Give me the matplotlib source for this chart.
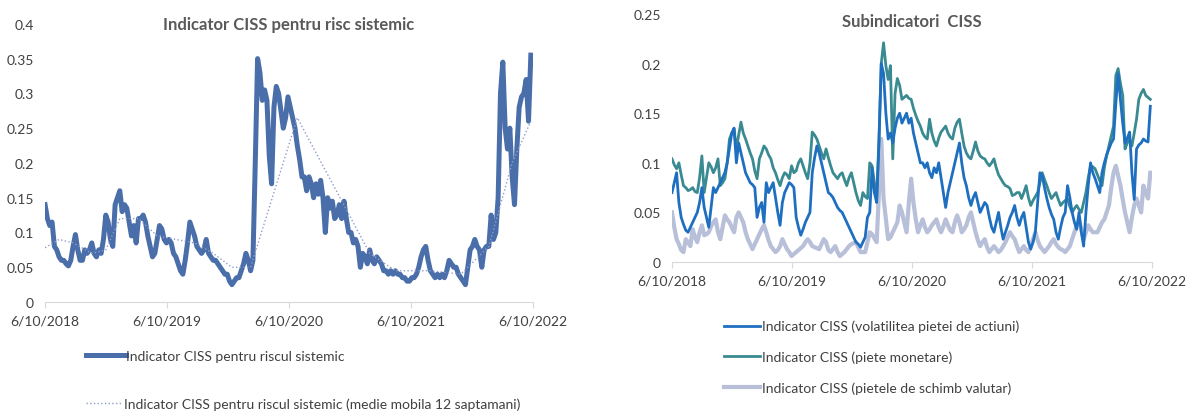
import pandas as pd
import matplotlib.pyplot as plt

plt.rcParams['font.family'] = ['Lato', 'DejaVu Sans']

# weekly data, starting 10 June 2018
start = '2018-06-10'

ciss = [0.14, 0.12, 0.11, 0.115, 0.08, 0.075, 0.065, 0.06, 0.06, 0.055, 0.052, 0.06, 0.08,
        0.097, 0.075, 0.06, 0.06, 0.075, 0.07, 0.075, 0.085, 0.07, 0.065, 0.075, 0.07, 0.09,
        0.125, 0.115, 0.09, 0.08, 0.14, 0.15, 0.16, 0.13, 0.14, 0.135, 0.115, 0.095, 0.11,
        0.085, 0.12, 0.12, 0.125, 0.115, 0.095, 0.08, 0.065, 0.07, 0.09, 0.11, 0.105, 0.09,
        0.085, 0.09, 0.085, 0.07, 0.065, 0.055, 0.045, 0.04, 0.06, 0.085, 0.115, 0.105, 0.095,
        0.08, 0.075, 0.07, 0.075, 0.09, 0.07, 0.065, 0.06, 0.06, 0.055, 0.05, 0.045, 0.04,
        0.04, 0.03, 0.025, 0.03, 0.035, 0.035, 0.045, 0.055, 0.07, 0.06, 0.045, 0.06, 0.2,
        0.35, 0.33, 0.29, 0.305, 0.29, 0.21, 0.17, 0.28, 0.31, 0.3, 0.275, 0.25, 0.265, 0.295,
        0.28, 0.265, 0.25, 0.225, 0.205, 0.18, 0.18, 0.16, 0.18, 0.17, 0.15, 0.17, 0.155, 0.175,
        0.15, 0.1, 0.15, 0.135, 0.145, 0.12, 0.125, 0.14, 0.12, 0.145, 0.12, 0.1, 0.1, 0.085,
        0.09, 0.08, 0.05, 0.07, 0.065, 0.055, 0.075, 0.06, 0.055, 0.065, 0.06, 0.055, 0.045,
        0.045, 0.04, 0.045, 0.04, 0.045, 0.04, 0.04, 0.035, 0.035, 0.03, 0.03, 0.035, 0.035,
        0.04, 0.05, 0.065, 0.075, 0.08, 0.06, 0.045, 0.04, 0.035, 0.04, 0.035, 0.04, 0.035,
        0.045, 0.06, 0.055, 0.05, 0.05, 0.04, 0.035, 0.03, 0.025, 0.05, 0.075, 0.08, 0.09,
        0.08, 0.075, 0.05, 0.075, 0.08, 0.08, 0.125, 0.09, 0.1, 0.15, 0.3, 0.345, 0.25, 0.22,
        0.25, 0.18, 0.14, 0.22, 0.28, 0.295, 0.3, 0.32, 0.26, 0.355]

# 12-week moving average, read at sparse dates
ma_dates = ['2018-06-10', '2018-07-22', '2018-09-02', '2018-10-28', '2018-12-09',
            '2019-01-20', '2019-03-17', '2019-05-12', '2019-07-07', '2019-09-01',
            '2019-10-27', '2019-12-22', '2020-02-16', '2020-07-05', '2021-02-07',
            '2021-04-25', '2021-08-08', '2021-11-07', '2022-01-30', '2022-04-10',
            '2022-06-05']
ma_values = [0.078, 0.09, 0.085, 0.07, 0.075, 0.12, 0.12, 0.095, 0.09, 0.085, 0.07,
             0.05, 0.05, 0.265, 0.07, 0.045, 0.045, 0.04, 0.08, 0.2, 0.26]

equity = [0.07, 0.08, 0.09, 0.06, 0.045, 0.038, 0.032, 0.03, 0.035, 0.04, 0.045, 0.05, 0.06,
          0.075, 0.055, 0.045, 0.035, 0.055, 0.075, 0.07, 0.075, 0.08, 0.085, 0.09, 0.1, 0.115,
          0.13, 0.135, 0.1, 0.12, 0.11, 0.1, 0.09, 0.085, 0.08, 0.078, 0.075, 0.045, 0.055,
          0.06, 0.04, 0.08, 0.07, 0.075, 0.08, 0.065, 0.05, 0.037, 0.06, 0.07, 0.075, 0.08,
          0.078, 0.075, 0.045, 0.035, 0.027, 0.033, 0.04, 0.045, 0.05, 0.09, 0.105, 0.117,
          0.11, 0.1, 0.09, 0.08, 0.07, 0.068, 0.065, 0.06, 0.055, 0.052, 0.05, 0.045, 0.04,
          0.035, 0.03, 0.025, 0.02, 0.018, 0.015, 0.02, 0.025, 0.045, 0.05, 0.095, 0.07, 0.06,
          0.12, 0.2, 0.19, 0.15, 0.124, 0.13, 0.12, 0.135, 0.145, 0.15, 0.14, 0.145, 0.15, 0.14,
          0.145, 0.13, 0.12, 0.11, 0.1, 0.1, 0.095, 0.1, 0.09, 0.085, 0.095, 0.09, 0.1, 0.085,
          0.07, 0.055, 0.07, 0.08, 0.09, 0.1, 0.11, 0.12, 0.1, 0.085, 0.077, 0.065, 0.057,
          0.065, 0.07, 0.06, 0.05, 0.055, 0.06, 0.057, 0.045, 0.035, 0.03, 0.04, 0.05, 0.035,
          0.023, 0.03, 0.037, 0.045, 0.05, 0.057, 0.045, 0.037, 0.045, 0.05, 0.035, 0.02,
          0.013, 0.02, 0.03, 0.06, 0.09, 0.087, 0.075, 0.064, 0.055, 0.048, 0.043, 0.03, 0.023,
          0.035, 0.045, 0.05, 0.077, 0.065, 0.05, 0.04, 0.033, 0.05, 0.03, 0.016, 0.05, 0.077,
          0.1, 0.09, 0.084, 0.077, 0.07, 0.09, 0.1, 0.108, 0.114, 0.12, 0.124, 0.16, 0.19,
          0.164, 0.14, 0.12, 0.125, 0.131, 0.09, 0.063, 0.114, 0.118, 0.12, 0.124, 0.122, 0.121,
          0.157]

money = [0.104, 0.098, 0.094, 0.1, 0.088, 0.077, 0.075, 0.072, 0.073, 0.075, 0.071, 0.07,
         0.085, 0.107, 0.07, 0.085, 0.1, 0.096, 0.09, 0.095, 0.104, 0.077, 0.08, 0.084, 0.1,
         0.124, 0.13, 0.134, 0.114, 0.128, 0.141, 0.13, 0.124, 0.117, 0.11, 0.104, 0.092,
         0.084, 0.104, 0.11, 0.117, 0.114, 0.108, 0.104, 0.095, 0.09, 0.083, 0.077, 0.085,
         0.09, 0.088, 0.084, 0.097, 0.09, 0.092, 0.1, 0.104, 0.097, 0.09, 0.084, 0.1, 0.131,
         0.128, 0.124, 0.117, 0.11, 0.104, 0.114, 0.105, 0.097, 0.09, 0.087, 0.084, 0.088,
         0.09, 0.083, 0.077, 0.085, 0.09, 0.08, 0.07, 0.062, 0.057, 0.07, 0.066, 0.064, 0.1,
         0.097, 0.08, 0.064, 0.124, 0.2, 0.221, 0.198, 0.184, 0.198, 0.104, 0.17, 0.185, 0.178,
         0.164, 0.166, 0.168, 0.165, 0.164, 0.155, 0.148, 0.142, 0.137, 0.13, 0.126, 0.124,
         0.144, 0.13, 0.122, 0.117, 0.125, 0.131, 0.134, 0.137, 0.13, 0.126, 0.124, 0.135,
         0.141, 0.144, 0.13, 0.117, 0.11, 0.106, 0.104, 0.112, 0.121, 0.112, 0.107, 0.105,
         0.104, 0.1, 0.097, 0.1, 0.104, 0.095, 0.088, 0.084, 0.08, 0.077, 0.076, 0.074, 0.067,
         0.068, 0.07, 0.07, 0.064, 0.07, 0.077, 0.065, 0.057, 0.062, 0.066, 0.07, 0.08, 0.09,
         0.083, 0.077, 0.07, 0.064, 0.067, 0.07, 0.063, 0.057, 0.06, 0.062, 0.064, 0.056, 0.05,
         0.054, 0.057, 0.053, 0.05, 0.06, 0.07, 0.085, 0.097, 0.096, 0.094, 0.088, 0.082,
         0.077, 0.095, 0.107, 0.117, 0.127, 0.137, 0.188, 0.195, 0.18, 0.168, 0.114, 0.12,
         0.124, 0.117, 0.13, 0.144, 0.164, 0.17, 0.174, 0.168, 0.166, 0.164]

fx = [0.05, 0.035, 0.023, 0.018, 0.012, 0.01, 0.023, 0.02, 0.016, 0.033, 0.025, 0.02, 0.03,
      0.037, 0.027, 0.028, 0.03, 0.036, 0.04, 0.043, 0.03, 0.023, 0.035, 0.047, 0.043, 0.04,
      0.035, 0.03, 0.045, 0.05, 0.045, 0.04, 0.03, 0.023, 0.018, 0.013, 0.018, 0.023, 0.028,
      0.033, 0.037, 0.03, 0.022, 0.016, 0.013, 0.01, 0.012, 0.016, 0.023, 0.018, 0.013, 0.01,
      0.006, 0.008, 0.01, 0.012, 0.014, 0.016, 0.02, 0.023, 0.02, 0.016, 0.015, 0.014, 0.013,
      0.018, 0.023, 0.02, 0.012, 0.01, 0.013, 0.016, 0.01, 0.006, 0.008, 0.01, 0.013, 0.016,
      0.018, 0.019, 0.02, 0.015, 0.01, 0.01, 0.01, 0.02, 0.03, 0.028, 0.024, 0.02, 0.07,
      0.124, 0.064, 0.043, 0.023, 0.025, 0.03, 0.035, 0.04, 0.057, 0.05, 0.04, 0.03, 0.06,
      0.084, 0.06, 0.043, 0.03, 0.037, 0.043, 0.035, 0.03, 0.033, 0.037, 0.04, 0.043, 0.035,
      0.03, 0.036, 0.043, 0.037, 0.032, 0.03, 0.04, 0.047, 0.04, 0.03, 0.033, 0.037, 0.045,
      0.05, 0.04, 0.03, 0.022, 0.016, 0.02, 0.023, 0.015, 0.01, 0.013, 0.016, 0.013, 0.01,
      0.012, 0.016, 0.02, 0.025, 0.03, 0.026, 0.023, 0.016, 0.01, 0.013, 0.016, 0.012, 0.01,
      0.016, 0.023, 0.03, 0.022, 0.016, 0.013, 0.01, 0.013, 0.016, 0.02, 0.023, 0.018, 0.015,
      0.013, 0.012, 0.01, 0.013, 0.016, 0.023, 0.03, 0.037, 0.043, 0.033, 0.023, 0.03, 0.037,
      0.033, 0.03, 0.03, 0.03, 0.035, 0.04, 0.043, 0.05, 0.057, 0.075, 0.09, 0.097, 0.087,
      0.077, 0.063, 0.05, 0.04, 0.03, 0.045, 0.057, 0.064, 0.057, 0.05, 0.077, 0.07, 0.064,
      0.09]

tick_dates = ['2018-06-10', '2019-06-10', '2020-06-10', '2021-06-10', '2022-06-10']
tick_labels = ['6/10/2018', '6/10/2019', '6/10/2020', '6/10/2021', '6/10/2022']

left_yticks = [0, 0.05, 0.1, 0.15, 0.2, 0.25, 0.3, 0.35, 0.4]
right_yticks = [0, 0.05, 0.1, 0.15, 0.2, 0.25]

TXT = '#404040'


def weeks(values):
    return pd.date_range(start, periods=len(values), freq='7D')


def style_axis(ax, yticks):
    for s in ['top', 'right', 'left']:
        ax.spines[s].set_visible(False)
    ax.spines['bottom'].set_color('#d9d9d9')
    ax.set_xlim(pd.Timestamp(tick_dates[0]), pd.Timestamp(tick_dates[-1]))
    ax.set_xticks(pd.to_datetime(tick_dates))
    ax.set_xticklabels(tick_labels)
    ax.set_yticks(yticks)
    ax.set_yticklabels(['%g' % v for v in yticks])
    ax.set_ylim(yticks[0], yticks[-1])
    ax.tick_params(axis='y', length=0, pad=8, labelsize=10, labelcolor=TXT)
    ax.tick_params(axis='x', length=4, color='#d9d9d9', pad=5, labelsize=10,
                   labelcolor=TXT)


fig = plt.figure(figsize=(11.86, 4.14), dpi=100)

# left chart
ax1 = fig.add_axes([0.038, 0.268, 0.411, 0.672])
l1, = ax1.plot(weeks(ciss), ciss, color='#4a6ea9', lw=3.6)
l2, = ax1.plot(pd.to_datetime(ma_dates), ma_values, color='#8e9ccc', lw=1.0, ls=':')
style_axis(ax1, left_yticks)
ax1.text(0.5, 1.0, 'Indicator CISS pentru risc sistemic', transform=ax1.transAxes,
         ha='center', va='center', fontsize=12, fontweight='bold', color='#595959')

fig.legend([l1], ['Indicator CISS pentru riscul sistemic'], loc='center left',
           bbox_to_anchor=(0.062, 0.138), frameon=False, handlelength=2.9,
           handletextpad=0.0, fontsize=10, labelcolor=TXT)
fig.legend([l2], ['Indicator CISS pentru riscul sistemic (medie mobila 12 saptamani)'],
           loc='center left', bbox_to_anchor=(0.062, 0.022), frameon=False,
           handlelength=2.6, handletextpad=0.15, fontsize=10, labelcolor=TXT)

# right chart
ax2 = fig.add_axes([0.5666, 0.3647, 0.4047, 0.599])
r3, = ax2.plot(weeks(fx), fx, color='#b7bfd9', lw=3.0)
r2, = ax2.plot(weeks(money), money, color='#3a8a92', lw=2.0)
r1, = ax2.plot(weeks(equity), equity, color='#1f6fc1', lw=2.0)
style_axis(ax2, right_yticks)
ax2.text(0.5, 0.97, 'Subindicatori  CISS', transform=ax2.transAxes,
         ha='center', va='center', fontsize=12, fontweight='bold', color='#595959')

fig.legend([r1, r2, r3],
           ['Indicator CISS (volatilitea pietei de actiuni)',
            'Indicator CISS (piete monetare)',
            'Indicator CISS (pietele de schimb valutar)'],
           loc='upper left', bbox_to_anchor=(0.6, 0.255), frameon=False,
           handlelength=2.6, handletextpad=0.1, labelspacing=1.3, fontsize=10,
           labelcolor=TXT)

plt.savefig('out.png', dpi=100)
